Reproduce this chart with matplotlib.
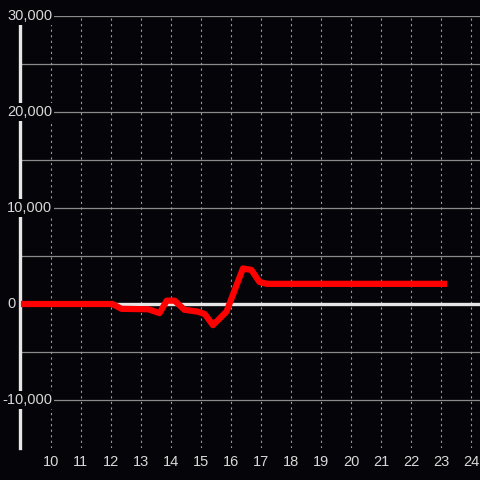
import matplotlib
matplotlib.use("Agg")
import matplotlib.pyplot as plt

# time of day (hours) and value
hours = [9.0, 12.05, 12.35, 13.25, 13.62, 13.86, 14.12, 14.45, 14.9, 15.13,
         15.4, 15.85, 16.4, 16.68, 16.95, 17.2, 23.2]
values = [0, 0, -500, -550, -950, 350, 350, -600, -800, -1050,
          -2200, -800, 3700, 3550, 2300, 2100, 2100]

x_ticks = list(range(10, 25))
y_ticks = [-10000, 0, 10000, 20000, 30000]
y_labels = ["-10,000", "0", "10,000", "20,000", "30,000"]

bg = "#050408"
txt = "#d8d8d8"

plt.rcParams["font.family"] = ["Liberation Sans", "DejaVu Sans"]

fig = plt.figure(figsize=(4.8, 4.8), dpi=100, facecolor=bg)
ax = fig.add_axes([20 / 480, 32 / 480, 460 / 480, 432 / 480], facecolor=bg)

ax.set_xlim(8.97, 24.3)
ax.set_ylim(-15000, 30000)

# grid
for yv in range(-10000, 30001, 5000):
    if yv == 0:
        continue
    ax.axhline(yv, color="#8a8a8a", lw=0.9, zorder=1)
for xv in x_ticks:
    ax.axvline(xv, color="#9a9a9a", lw=0.8, ls=(0, (2, 3)), zorder=1)
ax.axhline(0, color="#e6e6e6", lw=2.4, zorder=2)

ax.plot(hours, values, color="#ff0000", lw=4.5, solid_capstyle="butt",
        solid_joinstyle="round", zorder=3)

for s in ["top", "right", "bottom"]:
    ax.spines[s].set_visible(False)
ax.spines["left"].set_color("#e6e6e6")
ax.spines["left"].set_linewidth(2.4)
ax.spines["left"].set_zorder(2)

ax.set_xticks(x_ticks)
ax.set_xticklabels([str(v) for v in x_ticks])
ax.tick_params(axis="x", length=0, pad=5, colors=txt, labelsize=10.5)
ax.set_yticks([])

# y labels drawn over the axis with a dark box
tr = ax.get_yaxis_transform()
for yv, lab in zip(y_ticks, y_labels):
    xpos = (2 - 20) / 460 if lab.startswith("-") else (7 - 20) / 460
    ax.text(xpos, yv, lab, transform=tr, ha="left", va="center",
            color=txt, fontsize=10.5, zorder=6, clip_on=False,
            bbox=dict(facecolor=bg, edgecolor="none", pad=1.5))

fig.savefig("out.png", dpi=100, facecolor=bg)
